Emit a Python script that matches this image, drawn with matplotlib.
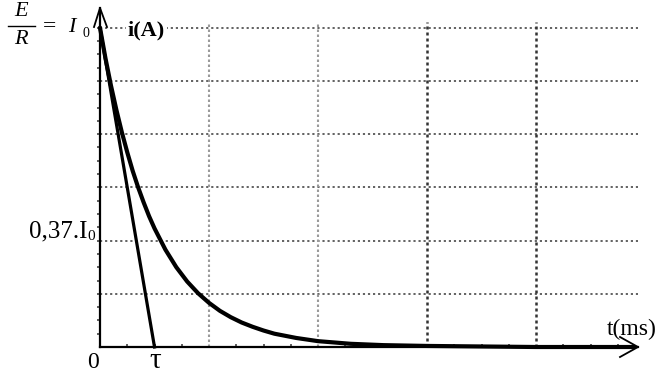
import matplotlib
matplotlib.use("Agg")
import matplotlib.pyplot as plt

# Data; t in grid units, i in grid units (I0 = 6)
t_curve = [0, 0.05, 0.1, 0.15, 0.2, 0.25, 0.3, 0.35, 0.4, 0.45, 0.5, 0.6, 0.7, 0.8, 0.9,
           1.0, 1.1, 1.2, 1.3, 1.4, 1.5, 1.6, 1.8, 2.0, 2.3, 2.6, 3.0, 3.5, 4.0, 4.9]
i_curve = [6.0, 5.43, 4.92, 4.46, 4.04, 3.66, 3.31, 3.0, 2.72, 2.46, 2.23, 1.83, 1.50, 1.23, 1.01,
           0.83, 0.68, 0.56, 0.46, 0.38, 0.31, 0.25, 0.17, 0.11, 0.06, 0.035, 0.02, 0.01, 0.0, 0.0]
t_tangent = [0, 0.5]
i_tangent = [6.0, 0.0]
h_grid = [1, 2, 3, 4, 5, 6]
v_grid_light = [1, 2]
v_grid_dark = [3, 4]
minor_x = [0.25, 0.5, 0.75, 1.25, 1.5, 1.75, 2.25, 2.5, 2.75, 3.25, 3.5, 3.75, 4.25, 4.5, 4.75]
minor_y = [k * 0.25 for k in range(1, 25)]

X0, Y0, SX, SY = 100, 347, 109.0, 53.2
def px(x):
    return (x - X0) / SX
def py(y):
    return (Y0 - y) / SY

fig = plt.figure(figsize=(6.61, 3.74), dpi=100)
ax = fig.add_axes([0, 0, 1, 1])
ax.set_xlim(px(0), px(661))
ax.set_ylim(py(374), py(0))
ax.axis('off')

xmax = px(638)
ytop = py(8)

# grid
ax.hlines(h_grid, 0, xmax, colors='#555555', linestyles=(0, (1.2, 1.6)), linewidth=1.3, zorder=1)
ax.vlines(v_grid_light, 0, py(22), colors='#9a9a9a', linestyles=(0, (1.2, 1.2)), linewidth=1.5, zorder=1)
ax.vlines(v_grid_dark, 0, py(22), colors='#333333', linestyles=(0, (1.2, 1.2)), linewidth=1.8, zorder=1)

# minor ticks
ax.hlines(minor_y, px(97), px(100), colors='#444444', linewidth=1.2, zorder=2)
ax.vlines(minor_x, 0, py(344), colors='#444444', linewidth=1.2, zorder=2)

# axes
ax.plot([0, 0], [0, ytop], color='black', linewidth=1.6, zorder=3)
ax.plot([0, xmax], [0, 0], color='black', linewidth=1.6, zorder=3)
# arrow heads (open)
ax.plot([px(94), px(100), px(107)], [py(27), py(8), py(27)], color='black', linewidth=1.3, zorder=3)
ax.plot([px(620), px(638), px(620)], [py(337), py(347), py(357)], color='black', linewidth=1.3, zorder=3)

# curves
ax.plot(t_curve, i_curve, color='black', linewidth=3.0, solid_capstyle='round', zorder=4)
ax.plot(t_tangent, i_tangent, color='black', linewidth=2.3, zorder=4)

serif = 'Liberation Serif'
# E/R = I0
ax.text(px(21), py(12), 'E', fontsize=16, family=serif, style='italic', ha='center', va='center')
ax.text(px(21), py(39), 'R', fontsize=16, family=serif, style='italic', ha='center', va='center')
ax.plot([px(8), px(35)], [py(26), py(26)], color='black', linewidth=1.0)
ax.text(px(49), py(27), '=', fontsize=17, family=serif, ha='center', va='center')
ax.text(px(72), py(28), 'I', fontsize=16, family=serif, style='italic', ha='center', va='center')
ax.text(px(86), py(34), '0', fontsize=10, family=serif, ha='center', va='center')

ax.text(px(128), py(30), 'i(A)', fontsize=16, family=serif, weight='bold', ha='left', va='center',
        bbox=dict(boxstyle='square,pad=0.1', fc='white', ec='none'), zorder=2)

ax.text(px(87), py(237), '0,37.I', fontsize=18, family=serif, ha='right', va='baseline')
ax.text(px(87), py(240), '0', fontsize=11, family=serif, ha='left', va='baseline')

ax.text(px(93), py(368), '0', fontsize=17, family=serif, ha='center', va='baseline')
ax.text(px(155), py(368), 'τ', fontsize=21, family=serif, ha='center', va='baseline')
ax.text(px(607), py(335), 't(ms)', fontsize=17, family=serif, ha='left', va='baseline')

fig.savefig('out.png', dpi=100)
